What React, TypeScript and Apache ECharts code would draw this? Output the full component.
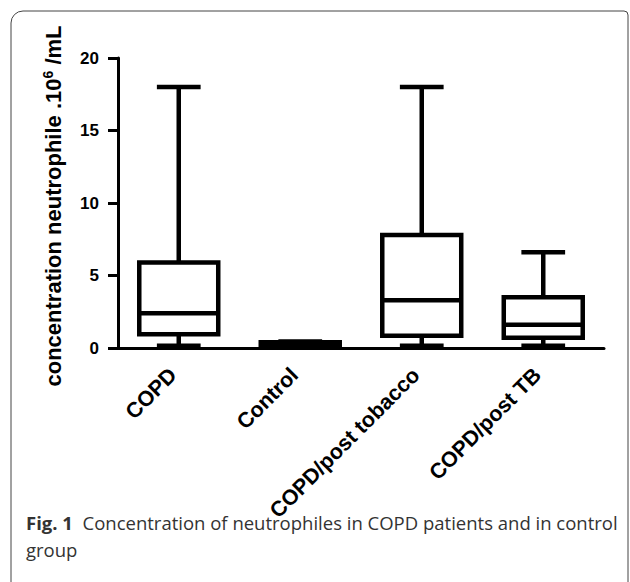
import React, { useEffect, useRef } from "react";
import * as echarts from "echarts";

const categories = ["COPD", "Control", "COPD/post tobacco", "COPD/post TB"];
// [min, q1, median, q3, max]
const boxMin = [0.15, 0.1, 0.15, 0.15];
const boxQ1 = [0.95, 0.15, 0.85, 0.7];
const boxMedian = [2.4, 0.3, 3.3, 1.6];
const boxQ3 = [5.9, 0.4, 7.8, 3.5];
const boxMax = [18, 0.45, 18, 6.6];
const yTicks = [0, 5, 10, 15, 20];

export default function App() {
  const ref = useRef<HTMLDivElement>(null);
  useEffect(() => {
    document.body.style.margin = "0";
    const chart = echarts.init(ref.current!, null, { renderer: "svg" });
    const data = categories.map((_, i) => [i, boxMin[i], boxQ1[i], boxMedian[i], boxQ3[i], boxMax[i]]);
    const lw = 4.5;
    const option: any = {
      animation: false,
      backgroundColor: "#fff",
      grid: { left: 118, right: 26, top: 58, bottom: 234, containLabel: false },
      xAxis: {
        type: "category",
        data: categories,
        boundaryGap: true,
        axisLine: { lineStyle: { color: "#000", width: 3 } },
        axisTick: { alignWithLabel: true, length: 9, lineStyle: { color: "#000", width: 3 } },
        axisLabel: {
          rotate: 45,
          margin: 18,
          padding: [0, 8, 0, 0],
          color: "#000",
          fontFamily: "Liberation Sans, Arial, sans-serif",
          fontWeight: "bold",
          fontSize: 21.5,
          interval: 0,
        },
      },
      yAxis: {
        type: "value",
        min: yTicks[0],
        max: yTicks[yTicks.length - 1],
        interval: 5,
        splitLine: { show: false },
        axisLine: { show: true, lineStyle: { color: "#000", width: 3 } },
        axisTick: { show: true, length: 10, lineStyle: { color: "#000", width: 3 } },
        axisLabel: {
          margin: 19,
          color: "#000",
          fontFamily: "Liberation Sans, Arial, sans-serif",
          fontWeight: "bold",
          fontSize: 17,
        },
      },
      series: [
        {
          type: "custom",
          data,
          encode: { x: 0, y: [1, 2, 3, 4, 5] },
          renderItem: (params: any, api: any) => {
            const idx = api.value(0);
            const x = api.coord([idx, 0])[0];
            const band = api.size([1, 0])[0];
            const bw = band * 0.65;
            const cw = band * 0.36;
            const yMin = api.coord([idx, api.value(1)])[1];
            const yQ1 = api.coord([idx, api.value(2)])[1];
            const yMed = api.coord([idx, api.value(3)])[1];
            const yQ3 = api.coord([idx, api.value(4)])[1];
            const yMax = api.coord([idx, api.value(5)])[1];
            const st = { stroke: "#000", lineWidth: lw, fill: null };
            return {
              type: "group",
              children: [
                { type: "line", shape: { x1: x, y1: yQ3, x2: x, y2: yMax }, style: st },
                { type: "line", shape: { x1: x, y1: yQ1, x2: x, y2: yMin }, style: st },
                { type: "line", shape: { x1: x - cw / 2, y1: yMax, x2: x + cw / 2, y2: yMax }, style: st },
                { type: "line", shape: { x1: x - cw / 2, y1: yMin, x2: x + cw / 2, y2: yMin }, style: st },
                {
                  type: "rect",
                  shape: { x: x - bw / 2, y: yQ3, width: bw, height: yQ1 - yQ3 },
                  style: { stroke: "#000", lineWidth: lw, fill: "#fff" },
                },
                { type: "line", shape: { x1: x - bw / 2, y1: yMed, x2: x + bw / 2, y2: yMed }, style: st },
              ],
            };
          },
        },
      ],
      graphic: [
        {
          type: "rect",
          shape: { x: 11, y: 11, width: 617, height: 620, r: [12, 4, 0, 0] },
          style: { stroke: "#444", lineWidth: 1, fill: null },
          silent: true,
        },
        {
          type: "text",
          x: 53,
          y: 206,
          rotation: Math.PI / 2,
          style: {
            text: "concentration neutrophile .10{sup|6} /mL",
            fontFamily: "Liberation Sans, Arial, sans-serif",
            fontWeight: "bold",
            fontSize: 22,
            fill: "#000",
            align: "center",
            verticalAlign: "middle",
            rich: {
              sup: {
                fontFamily: "Liberation Sans, Arial, sans-serif",
                fontWeight: "bold",
                fontSize: 14,
                fill: "#000",
                verticalAlign: "top",
                padding: [0, 0, 10, 0],
              },
            },
          },
        },
        {
          type: "text",
          x: 26,
          y: 522,
          style: {
            text: "{b|Fig. 1}  Concentration of neutrophiles in COPD patients and in control",
            fontFamily: "Open Sans, sans-serif",
            fontSize: 18.5,
            fill: "#333",
            verticalAlign: "middle",
            rich: {
              b: { fontFamily: "Open Sans, sans-serif", fontSize: 18.5, fontWeight: "bold", fill: "#333" },
            },
          },
        },
        {
          type: "text",
          x: 26,
          y: 549,
          style: {
            text: "group",
            fontFamily: "Open Sans, sans-serif",
            fontSize: 18.5,
            fill: "#333",
            verticalAlign: "middle",
          },
        },
      ],
    };
    chart.setOption(option);
    return () => chart.dispose();
  }, []);
  return <div ref={ref} style={{ width: 630, height: 582 }} />;
}
